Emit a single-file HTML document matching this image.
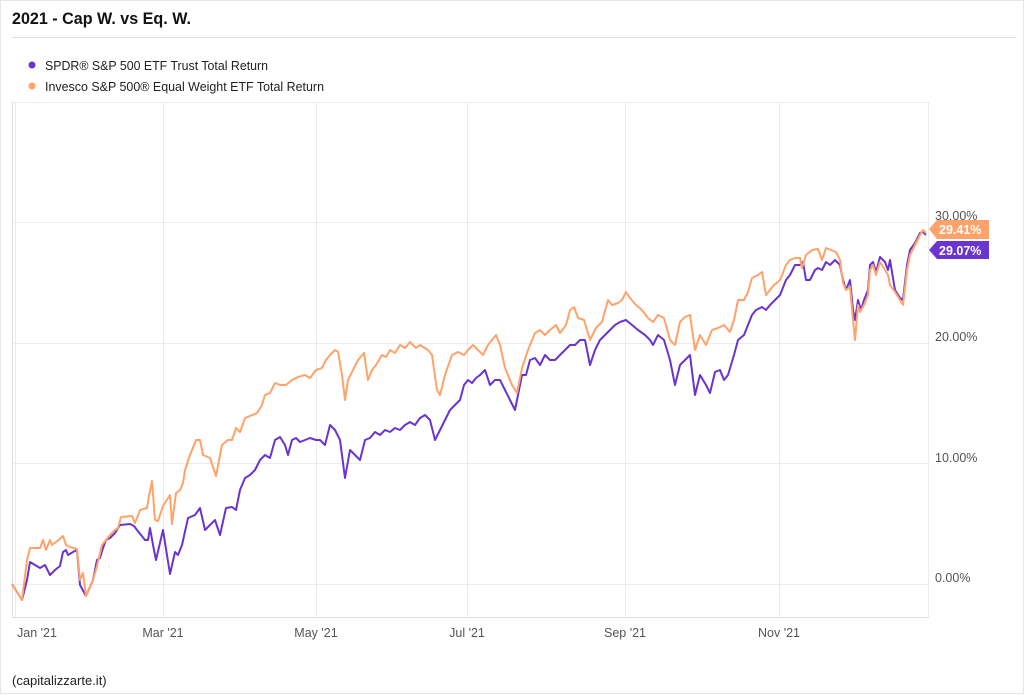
<!DOCTYPE html>
<html><head><meta charset="utf-8"><style>
body{margin:0;background:#fff;font-family:"Liberation Sans",sans-serif;}
</style></head><body>
<svg width="1024" height="694" xmlns="http://www.w3.org/2000/svg" font-family="Liberation Sans, sans-serif">
<rect x="0.5" y="0.5" width="1023" height="693" fill="#fff" stroke="#e6e6e6"/>
<text x="12" y="24" font-size="17" font-weight="bold" fill="#111" textLength="179" lengthAdjust="spacingAndGlyphs">2021 - Cap W. vs Eq. W.</text>
<line x1="12" y1="37.5" x2="1016" y2="37.5" stroke="#e0e0e0"/>
<circle cx="32" cy="65" r="3.5" fill="#6a34d0"/>
<text x="45" y="70" font-size="13" fill="#222" textLength="223" lengthAdjust="spacingAndGlyphs">SPDR® S&amp;P 500 ETF Trust Total Return</text>
<circle cx="32" cy="86" r="3.5" fill="#ffa36b"/>
<text x="45" y="91" font-size="13" fill="#222" textLength="279" lengthAdjust="spacingAndGlyphs">Invesco S&amp;P 500® Equal Weight ETF Total Return</text>
<g stroke="#ececec" stroke-width="1">
<line x1="13" y1="102.5" x2="928" y2="102.5"/>
<line x1="13" y1="222.5" x2="928" y2="222.5"/>
<line x1="13" y1="343.5" x2="928" y2="343.5"/>
<line x1="13" y1="463.5" x2="928" y2="463.5"/>
<line x1="13" y1="584.5" x2="928" y2="584.5"/>
<line x1="15.5" y1="102" x2="15.5" y2="618"/>
<line x1="163.5" y1="102" x2="163.5" y2="618"/>
<line x1="316.5" y1="102" x2="316.5" y2="618"/>
<line x1="467.5" y1="102" x2="467.5" y2="618"/>
<line x1="625.5" y1="102" x2="625.5" y2="618"/>
<line x1="779.5" y1="102" x2="779.5" y2="618"/>
<line x1="928.5" y1="102" x2="928.5" y2="618"/>
</g>
<line x1="13" y1="617.5" x2="928" y2="617.5" stroke="#ddd"/>
<line x1="12.5" y1="102" x2="12.5" y2="618" stroke="#ddd"/>
<g font-size="12.5" fill="#555">
<text x="935" y="220">30.00%</text>
<text x="935" y="341">20.00%</text>
<text x="935" y="462">10.00%</text>
<text x="935" y="582">0.00%</text>
<text x="37" y="637" text-anchor="middle">Jan '21</text>
<text x="163" y="637" text-anchor="middle">Mar '21</text>
<text x="316" y="637" text-anchor="middle">May '21</text>
<text x="467" y="637" text-anchor="middle">Jul '21</text>
<text x="625" y="637" text-anchor="middle">Sep '21</text>
<text x="779" y="637" text-anchor="middle">Nov '21</text>
</g>
<text x="12" y="685" font-size="13" fill="#222">(capitalizzarte.it)</text>
<polyline fill="none" stroke="#6a34d0" stroke-width="2" stroke-linejoin="round" points="12,584 22,600 27,580 30,562 35,565 40,568 45,565 50,575 55,570 60,566 63,552 66,550 68,555 73,552 77,550 80,585 86,596 93,580 97,560 100,558 103,548 106,540 110,538 115,533 120,525 130,524 134,526 137,530 145,540 148,540 150,528 153,545 156,560 163,530 170,574 175,552 178,555 182,545 188,518 195,515 200,508 205,530 210,525 215,520 220,535 226,508 232,507 236,510 240,490 245,478 250,475 255,470 260,460 265,455 270,458 275,440 280,437 285,445 288,455 292,440 296,438 300,442 305,440 310,438 316,440 320,440 325,445 330,425 335,430 340,440 345,478 350,450 355,455 360,460 365,440 370,438 375,432 380,435 385,430 390,432 395,428 400,430 405,425 410,422 415,425 420,418 425,415 430,420 435,440 440,430 445,420 450,410 455,405 460,400 464,385 468,380 472,383 476,378 480,375 485,370 490,385 495,380 500,380 505,390 510,400 515,410 518,395 522,375 526,375 530,360 535,358 540,365 545,355 550,360 555,360 560,355 565,350 570,345 575,345 580,340 585,340 590,365 595,350 600,340 605,335 610,330 615,325 620,322 626,320 632,325 638,330 645,335 650,340 653,345 658,335 664,340 670,360 675,385 680,365 685,360 690,355 695,395 700,375 706,385 710,393 715,372 720,370 724,380 728,375 734,355 738,340 744,335 748,325 752,315 756,310 762,307 766,310 770,305 775,300 780,295 786,280 790,275 795,265 800,265 803,262 806,280 810,280 815,270 818,268 822,270 826,262 830,265 835,260 840,265 843,280 846,290 850,280 853,310 855,320 858,300 861,310 864,300 868,290 870,265 873,262 876,272 880,257 885,262 888,270 890,260 895,290 900,298 903,300 907,265 910,250 915,243 920,233 923,232 926,235"/>
<polyline fill="none" stroke="#ffa36b" stroke-width="2" stroke-linejoin="round" points="12,584 22,600 27,560 30,548 40,548 43,540 46,550 50,540 52,545 56,542 63,536 66,545 70,547 77,549 80,580 83,573 86,596 93,580 97,566 102,545 110,535 115,530 118,528 121,517 132,516 135,523 140,510 147,508 149,496 152,481 155,520 158,521 163,506 170,495 172,524 176,493 180,490 183,483 185,470 190,455 196,440 200,440 203,455 210,458 216,476 222,445 228,440 232,440 236,428 240,432 245,418 250,416 257,413 262,405 265,395 270,393 275,383 280,385 286,385 292,380 298,377 305,375 310,378 316,370 322,368 326,360 330,355 335,350 338,352 342,375 345,400 348,380 352,372 358,360 364,353 368,380 372,370 376,365 382,355 386,357 390,350 395,353 400,345 405,348 410,342 416,348 420,345 428,350 432,355 437,390 440,395 445,375 452,355 458,352 464,355 468,350 473,345 478,350 483,355 488,345 492,340 496,335 500,345 505,368 512,385 517,393 522,368 528,350 535,333 540,330 545,335 550,330 556,325 560,333 566,325 570,310 574,307 578,318 584,320 590,340 596,328 602,322 608,300 612,305 618,303 622,300 626,292 630,298 636,305 642,310 648,318 653,322 658,315 664,318 670,340 675,345 680,322 685,317 690,315 695,350 700,335 706,345 712,330 718,328 724,325 730,332 734,320 738,300 744,300 748,292 752,278 758,275 762,272 766,295 770,290 774,285 780,280 786,265 790,260 795,258 800,258 802,268 806,255 812,250 818,249 822,260 826,248 831,250 836,252 840,260 843,283 846,290 850,287 853,320 855,340 858,305 860,312 864,305 868,295 870,270 873,265 876,275 880,262 885,270 888,275 890,285 895,292 900,300 903,305 907,270 910,255 915,245 920,235 923,230 926,233"/>
<polygon points="929,229 937,220 989,220 989,239 937,239" fill="#ffa36b"/>
<text x="939" y="234" font-size="12.5" font-weight="bold" fill="#fff">29.41%</text>
<polygon points="929,250 937,241 989,241 989,259 937,259" fill="#6a34d0"/>
<text x="939" y="255" font-size="12.5" font-weight="bold" fill="#fff">29.07%</text>
</svg>
</body></html>
